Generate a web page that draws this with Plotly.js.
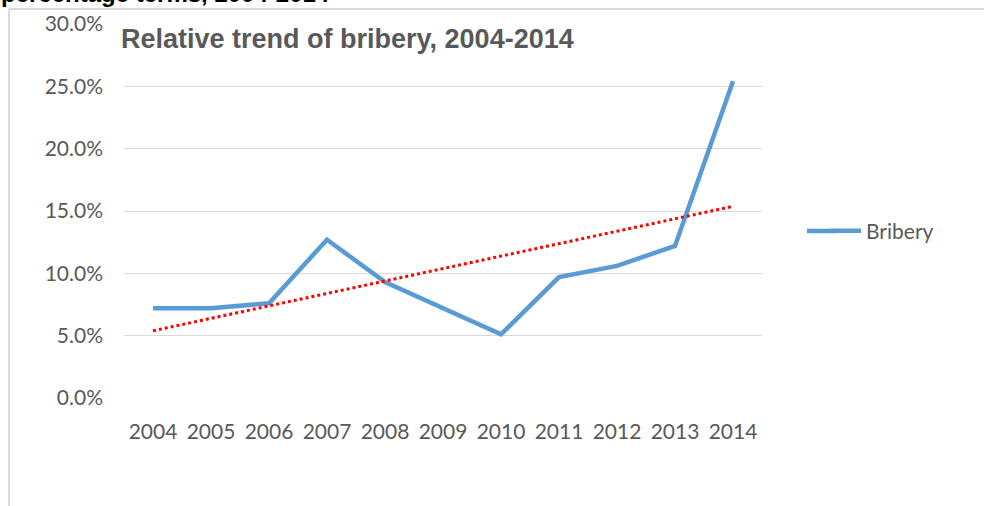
<!DOCTYPE html>
<html>
<head>
<meta charset="utf-8">
<script src="https://cdn.plot.ly/plotly-3.0.1.min.js"></script>
<style>html,body{margin:0;padding:0;background:#fff;}#chart{width:984px;height:506px;}</style>
</head>
<body>
<div id="chart"></div>
<script>
const years = ['2004','2005','2006','2007','2008','2009','2010','2011','2012','2013','2014'];
const bribery = [0.072, 0.072, 0.076, 0.127, 0.093, 0.072, 0.051, 0.097, 0.106, 0.122, 0.254];
const seriesName = 'Bribery';
const chartTitle = 'Relative trend of bribery, 2004-2014';
const topCaption = 'percentage terms, 2004-2014';
const yTicks = [0, 0.05, 0.10, 0.15, 0.20, 0.25, 0.30];

// linear trendline (least squares on category index)
const n = bribery.length;
const xs = bribery.map((_, i) => i);
const mx = xs.reduce((a, b) => a + b, 0) / n;
const my = bribery.reduce((a, b) => a + b, 0) / n;
let sxy = 0, sxx = 0;
for (let i = 0; i < n; i++) { sxy += (xs[i] - mx) * (bribery[i] - my); sxx += (xs[i] - mx) * (xs[i] - mx); }
const slope = sxy / sxx, icpt = my - slope * mx;
const trend = xs.map(x => icpt + slope * x);

const L = 124, R = 762, T = 24, B = 398, W = 984, H = 506;
const px = v => (v - L) / (R - L);
const py = v => (B - v) / (B - T);

const font = 'Lato, "Open Sans", sans-serif';
const gray = '#595959';
const blue = '#5b9bd5';

const data = [
  { x: years, y: bribery, type: 'scatter', mode: 'lines', name: seriesName,
    line: { color: blue, width: 4.5 }, hoverinfo: 'x+y' },
  { x: years, y: trend, type: 'scatter', mode: 'lines', name: 'Linear (Bribery)', showlegend: false,
    line: { color: '#ff0000', width: 3, dash: 'dot' }, hoverinfo: 'skip' }
];

const layout = {
  width: W, height: H,
  margin: { l: L, r: W - R, t: T, b: H - B },
  paper_bgcolor: '#ffffff', plot_bgcolor: '#ffffff',
  font: { family: font, size: 21, color: gray },
  title: { text: chartTitle, x: 121 / W, xanchor: 'left', xref: 'container',
           y: 1 - 39 / H, yanchor: 'middle', yref: 'container',
           font: { family: '"Liberation Sans", Arial, sans-serif', size: 27, color: gray, weight: 'bold' } },
  xaxis: { type: 'category', range: [-0.5, 10.5], showgrid: false, zeroline: false, showline: false,
           ticks: '', tickfont: { family: font, size: 21, color: gray }, ticklabelstandoff: 19, fixedrange: true },
  yaxis: { range: [0, 0.30], tickvals: yTicks, tickformat: '.1%', showgrid: true, gridcolor: '#d9d9d9',
           gridwidth: 1, zeroline: false, showline: false, ticks: '', ticklabelstandoff: 20,
           tickfont: { family: font, size: 21, color: gray }, fixedrange: true },
  showlegend: true,
  legend: { x: px(826), xanchor: 'left', y: py(231), yanchor: 'middle', font: { family: font, size: 21, color: gray },
            bgcolor: 'rgba(0,0,0,0)' },
  shapes: [
    { type: 'line', xref: 'paper', yref: 'paper', x0: px(9), x1: px(990), y0: py(9), y1: py(9),
      line: { color: '#d9d9d9', width: 2 } },
    { type: 'line', xref: 'paper', yref: 'paper', x0: px(9), x1: px(9), y0: py(9), y1: py(510),
      line: { color: '#d9d9d9', width: 2 } },
    // extends the legend's line sample to the reference's longer swatch
    { type: 'line', xref: 'paper', yref: 'paper', x0: px(807), x1: px(838), y0: py(231), y1: py(231),
      line: { color: blue, width: 4.5 } }
  ],
  annotations: [
    { text: '<b>' + topCaption + '</b>', xref: 'paper', yref: 'paper', x: px(-1), xanchor: 'left',
      y: py(9), yanchor: 'bottom', showarrow: false,
      font: { family: '"Liberation Sans", Arial, sans-serif', size: 24, color: '#000000' } }
  ]
};

Plotly.newPlot('chart', data, layout, { displayModeBar: false });
</script>
</body>
</html>
